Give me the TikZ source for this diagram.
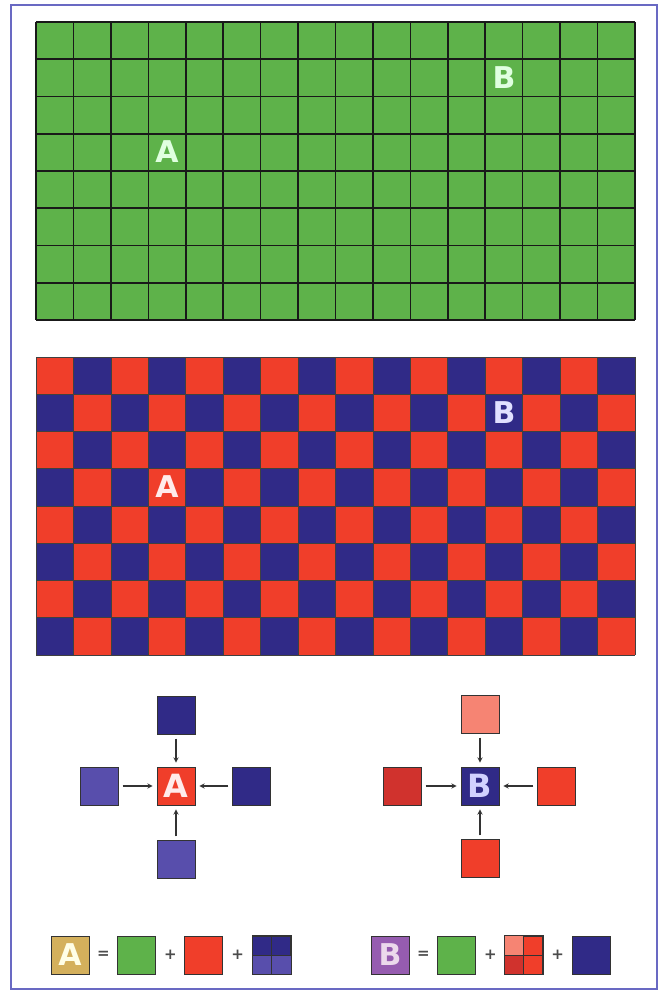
\documentclass[tikz,border=0pt]{standalone}
\usepackage{fontspec}
\setmainfont{DejaVu Sans}
\usepackage{tikz}
\usetikzlibrary{
    positioning,
    calc
}
\definecolor{framecol}{RGB}{105,105,195}
\definecolor{fieldgreen}{RGB}{94,178,74}
\definecolor{dotred}{RGB}{240,62,42}
\definecolor{dotblue}{RGB}{48,42,135}
\definecolor{paleblue}{RGB}{88,78,172}
\definecolor{palered}{RGB}{246,132,115}
\definecolor{deepred}{RGB}{208,50,45}
\definecolor{goldA}{RGB}{212,176,92}
\definecolor{violetB}{RGB}{150,92,176}
\tikzstyle{cell} = [
    rectangle,
    draw=black!80,
    line width=0.9pt,
    minimum size=38pt,
    inner sep=0pt,
    font=\bfseries\fontsize{32}{32}\selectfont
]
\tikzstyle{letter} = [
    inner sep=0pt,
    font=\bfseries\fontsize{30}{30}\selectfont
]
\tikzstyle{sign} = [
    inner sep=0pt,
    text=black!70,
    font=\bfseries\fontsize{15}{15}\selectfont
]
\tikzstyle{arrow} = [
    ->,
    >=stealth,
    line width=1.3pt,
    draw=black!80,
    shorten >=4pt,
    shorten <=4pt
]

\begin{document}
\begin{tikzpicture}[x=1pt, y=-1pt]
        % Frame
        \useasboundingbox (0,0) rectangle (661,992);
        \fill[white] (0,0) rectangle (661,992);
        \draw[framecol, line width=1.6pt] (11,5) rectangle (657,989);

        % Green screen
        \fill[fieldgreen] (36,22) rectangle (635,320);
        \foreach \i in {0,...,16}
            \draw[black!90, line width=1.6pt] ({36+\i*37.4375},22) -- ++(0,298);
        \foreach \j in {0,...,8}
            \draw[black!90, line width=1.6pt] (36,{22+\j*37.25}) -- ++(599,0);
        \node[letter, text=white!88!green] (gA) at (167,152) {A};
        \node[letter, text=white!88!green] (gB) at (504,78) {B};

        % Red/blue screen
        \foreach \i in {0,...,15}
            \foreach \j in {0,...,7} {
                \pgfmathtruncatemacro{\odd}{mod(\i+\j,2)}
                \ifnum\odd=0 \def\dotcol{dotred}\else\def\dotcol{dotblue}\fi
                \fill[\dotcol] ({36+\i*37.4375},{357+\j*37.25}) rectangle ++(37.4375,37.25);
            }
        \foreach \i in {0,...,16}
            \draw[black!75, line width=0.7pt] ({36+\i*37.4375},357) -- ++(0,298);
        \foreach \j in {0,...,8}
            \draw[black!75, line width=0.7pt] (36,{357+\j*37.25}) -- ++(599,0);
        \node[letter, text=white!92!red] (cA) at (167,487) {A};
        \node[letter, text=white!88!blue] (cB) at (504,413) {B};

        % Neighbours of A
        \node[cell, fill=dotred, text=white!92!red] (ctrA) at (176,786) {A};
        \node[cell, fill=dotblue, above=32pt of ctrA] (topA) {};
        \node[cell, fill=paleblue, below=35pt of ctrA] (botA) {};
        \node[cell, fill=paleblue, left=38pt of ctrA] (lftA) {};
        \node[cell, fill=dotblue, right=37pt of ctrA] (rgtA) {};
        \draw[arrow] (topA) -- (ctrA);
        \draw[arrow] (botA) -- (ctrA);
        \draw[arrow] (lftA) -- (ctrA);
        \draw[arrow] (rgtA) -- (ctrA);

        % Neighbours of B
        \node[cell, fill=dotblue, text=white!82!blue] (ctrB) at (480,786) {B};
        \node[cell, fill=palered, above=33pt of ctrB] (topB) {};
        \node[cell, fill=dotred, below=34pt of ctrB] (botB) {};
        \node[cell, fill=deepred, left=39pt of ctrB] (lftB) {};
        \node[cell, fill=dotred, right=38pt of ctrB] (rgtB) {};
        \draw[arrow] (topB) -- (ctrB);
        \draw[arrow] (botB) -- (ctrB);
        \draw[arrow] (lftB) -- (ctrB);
        \draw[arrow] (rgtB) -- (ctrB);

        % Sum for A
        \node[cell, fill=goldA, text=white!90!yellow, font=\bfseries\fontsize{30}{30}\selectfont] (sumA) at (70,955) {A};
        \node[cell, fill=fieldgreen, right=28pt of sumA] (grnA) {};
        \node[cell, fill=dotred, right=28pt of grnA] (redA) {};
        \node[cell, fill=dotblue, right=29pt of redA] (bluA) {};
        \fill[paleblue] (bluA.west) rectangle (bluA.south east);
        \draw[black!80, line width=0.9pt] (bluA.north) -- (bluA.south) (bluA.west) -- (bluA.east);
        \draw[black!80, line width=0.9pt] (bluA.north west) rectangle (bluA.south east);
        \node[sign] at ($(sumA.east)!0.5!(grnA.west)$) {=};
        \node[sign] at ($(grnA.east)!0.5!(redA.west)$) {+};
        \node[sign] at ($(redA.east)!0.5!(bluA.west)$) {+};

        % Sum for B
        \node[cell, fill=violetB, text=white!85!violet, font=\bfseries\fontsize{30}{30}\selectfont] (sumB) at (390,955) {B};
        \node[cell, fill=fieldgreen, right=28pt of sumB] (grnB) {};
        \node[cell, fill=dotred, right=28pt of grnB] (redB) {};
        \node[cell, fill=dotblue, right=29pt of redB] (bluB) {};
        \fill[palered] (redB.north west) rectangle (redB.center);
        \fill[deepred] (redB.west) rectangle (redB.south);
        \draw[black!80, line width=0.9pt] (redB.north) -- (redB.south) (redB.west) -- (redB.east);
        \draw[black!80, line width=0.9pt] (redB.north west) rectangle (redB.south east);
        \node[sign] at ($(sumB.east)!0.5!(grnB.west)$) {=};
        \node[sign] at ($(grnB.east)!0.5!(redB.west)$) {+};
        \node[sign] at ($(redB.east)!0.5!(bluB.west)$) {+};
    \end{tikzpicture}
\end{document}
